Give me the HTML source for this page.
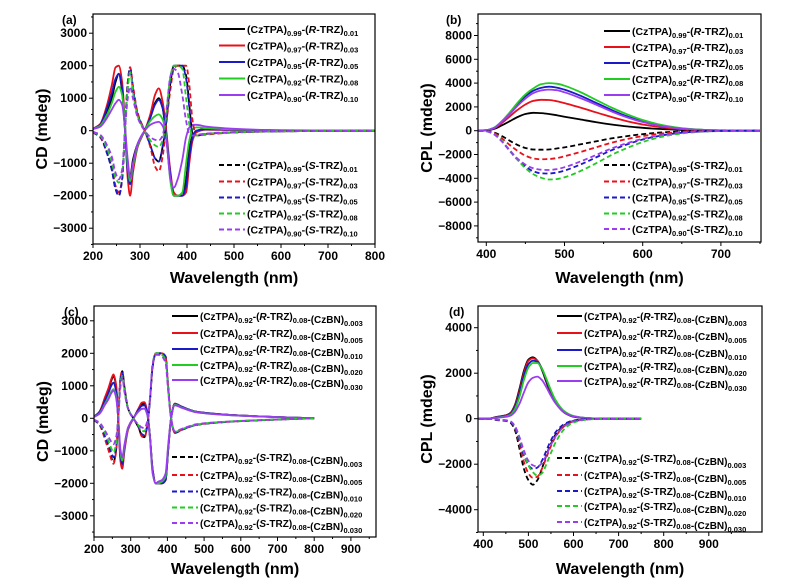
<!DOCTYPE html>
<html><head><meta charset="utf-8"><style>
html,body{margin:0;padding:0;background:#fff;}
svg{display:block;font-family:"Liberation Sans",Arial,sans-serif;font-weight:bold;}
</style></head><body>
<svg id="fig" width="800" height="586" viewBox="0 0 800 586"></svg>
<script>
// ---------- shared ----------
const colors = ["#000000","#e8101a","#1a1ac8","#22cc22","#9a3cf0"];

// ---------- panel (a) data ----------
const xsA = [200,215,230,240,248,255,262,268,274,279,285,295,310,322,332,340,348,356,365,372,380,390,398,405,412,420,440,500,600,800];
const aR0 = [50,150,600,1000,1500,1750,1200,0,-1100,-1400,-900,-400,0,400,850,1000,700,-200,-1500,-2000,-2000,-2000,-1500,-600,-150,0,50,30,10,0];
const aR1 = [60,200,800,1400,1950,2000,1500,200,-1500,-2000,-1300,-500,0,500,1100,1300,900,0,-1300,-1900,-2000,-2000,-1900,-1000,-300,-50,30,20,10,0];
const aR2 = [50,180,700,1150,1600,1750,1300,100,-1300,-1650,-1100,-450,0,400,800,950,700,-100,-1400,-2000,-2000,-2000,-1700,-800,-200,0,40,30,10,0];
const aR3 = [50,150,500,850,1200,1350,1100,200,-1100,-1550,-1100,-450,0,300,450,500,350,-200,-1600,-2000,-2000,-1900,-1000,-300,50,100,80,40,10,0];
const aR4 = [50,120,400,650,850,950,800,100,-900,-1450,-1000,-400,0,180,250,270,150,-300,-1500,-1750,-1500,-900,-200,100,180,180,130,60,15,0];
const aS0 = [-50,-150,-700,-1200,-1800,-2000,-1500,0,1500,1950,1300,500,0,-450,-850,-950,-500,300,1500,2000,2000,2000,1700,800,-100,-150,-100,-50,-20,0];
const aS1 = [-60,-200,-700,-1150,-1700,-1900,-1500,0,1500,1950,1400,550,0,-500,-1100,-1250,-800,200,1300,1900,2000,2000,2000,1400,300,-150,-120,-60,-20,0];
const aS2 = [-50,-180,-700,-1200,-1800,-2000,-1500,0,1400,1900,1300,500,0,-450,-850,-950,-500,300,1500,2000,2000,2000,1600,700,-100,-150,-100,-50,-20,0];
const aS3 = [-40,-150,-550,-950,-1450,-1600,-1300,0,1300,1800,1200,450,0,-300,-450,-500,-300,500,1700,2000,2000,1900,1000,200,-150,-150,-100,-50,-20,0];
const aS4 = [-30,-120,-450,-800,-1300,-1500,-1200,0,1000,1350,1000,400,0,-200,-280,-300,-150,600,1700,1900,1800,1100,300,-100,-150,-130,-90,-40,-15,0];
const aRsub1 = ["0.99","0.97","0.95","0.92","0.90"];
const aRsub2 = ["0.01","0.03","0.05","0.08","0.10"];

// ---------- panel (b) data ----------
const xsB = [390,400,410,420,430,440,450,460,470,480,490,500,520,540,560,580,600,620,640,660,680,700,750];
const bR0 = [0,20,150,450,800,1150,1400,1500,1480,1400,1300,1180,950,720,520,360,240,150,90,40,20,10,0];
const bR1 = [0,30,200,650,1200,1750,2200,2500,2600,2580,2480,2320,1950,1550,1150,800,520,320,180,90,40,20,0];
const bR2 = [0,40,250,800,1500,2250,2900,3350,3600,3700,3620,3450,2950,2350,1750,1200,780,470,260,130,60,25,0];
const bR3 = [0,40,250,800,1550,2350,3050,3550,3900,4000,3950,3780,3250,2600,1950,1380,900,550,300,150,70,30,0];
const bR4 = [0,40,230,750,1400,2100,2700,3150,3380,3450,3400,3230,2750,2200,1620,1120,730,440,240,120,55,25,0];
const bS0 = [0,-20,-150,-450,-850,-1200,-1450,-1580,-1600,-1580,-1500,-1400,-1150,-900,-650,-450,-290,-170,-90,-40,-20,-10,0];
const bS1 = [0,-30,-200,-650,-1200,-1700,-2100,-2330,-2400,-2380,-2300,-2150,-1800,-1400,-1020,-700,-450,-270,-150,-70,-30,-15,0];
const bS2 = [0,-40,-300,-900,-1700,-2450,-3000,-3400,-3580,-3600,-3520,-3350,-2850,-2250,-1650,-1150,-740,-450,-240,-120,-55,-25,0];
const bS3 = [0,-40,-280,-850,-1650,-2450,-3150,-3650,-3950,-4100,-4070,-3920,-3400,-2750,-2050,-1450,-950,-580,-320,-160,-70,-30,0];
const bS4 = [0,-40,-300,-900,-1650,-2350,-2850,-3150,-3280,-3300,-3230,-3070,-2600,-2050,-1500,-1050,-680,-410,-220,-110,-50,-20,0];

// ---------- panel (c) data ----------
const xsC = [200,215,230,240,247,253,260,266,272,277,283,293,310,322,330,337,345,352,360,368,375,385,395,402,410,420,440,480,550,650,800];
const cR0 = [50,200,600,900,1150,1300,1000,0,-1200,-1450,-900,-300,50,300,430,450,200,-500,-1600,-2000,-2000,-2000,-1900,-1000,0,450,350,200,120,60,0];
const cR1 = [50,200,650,950,1200,1350,1050,0,-1300,-1550,-1000,-350,50,320,480,500,220,-500,-1600,-2000,-2000,-2000,-1900,-1000,0,450,350,200,120,60,0];
const cR2 = [50,180,550,800,1000,1100,850,0,-1150,-1400,-900,-300,50,280,380,400,180,-500,-1600,-2000,-2000,-2000,-1900,-1000,0,440,350,200,120,60,0];
const cR3 = [40,150,450,650,820,900,700,0,-1050,-1300,-850,-300,50,220,290,300,120,-550,-1700,-2000,-2000,-1950,-1800,-900,0,420,330,190,110,55,0];
const cR4 = [40,140,420,600,770,850,650,0,-950,-1200,-800,-280,50,220,290,300,120,-550,-1700,-2000,-1950,-1900,-1700,-850,0,400,320,180,110,55,0];
const cS0 = [-50,-200,-600,-950,-1200,-1350,-1000,0,1200,1450,950,300,-50,-300,-530,-580,-250,500,1600,2000,2000,2000,1900,1000,0,-450,-350,-200,-120,-60,0];
const cS1 = [-50,-200,-650,-1000,-1250,-1400,-1050,0,1250,1450,950,300,-50,-300,-550,-600,-250,500,1600,2000,2000,2000,1900,1000,0,-450,-350,-200,-120,-60,0];
const cS2 = [-50,-180,-550,-850,-1050,-1200,-900,0,1150,1400,900,300,-50,-280,-480,-520,-220,500,1600,2000,2000,2000,1900,1000,0,-440,-350,-200,-120,-60,0];
const cS3 = [-40,-150,-450,-720,-920,-1050,-800,0,1100,1300,850,300,-50,-230,-370,-400,-150,550,1700,2000,2000,1950,1800,900,0,-420,-330,-190,-110,-55,0];
const cS4 = [-40,-130,-380,-580,-720,-800,-600,0,950,1250,800,280,-50,-200,-280,-300,-100,550,1700,1950,1950,1900,1700,850,0,-400,-320,-180,-110,-55,0];
const cSub = ["0.003","0.005","0.010","0.020","0.030"];

// ---------- panel (d) data ----------
const xsD = [390,410,430,450,460,470,480,490,500,510,520,530,540,550,560,580,600,630,660,700,750];
const dR0 = [0,0,80,150,250,600,1300,2100,2600,2700,2550,2150,1600,1100,700,260,90,20,5,0,0];
const dR1 = [0,0,70,140,230,550,1200,2000,2550,2650,2550,2200,1680,1150,740,280,100,25,5,0,0];
const dR2 = [0,0,60,120,200,500,1100,1900,2400,2550,2500,2200,1700,1200,780,300,110,25,5,0,0];
const dR3 = [0,0,50,100,170,420,950,1700,2250,2450,2450,2200,1750,1250,820,320,120,30,5,0,0];
const dR4 = [0,0,40,80,130,300,650,1150,1600,1800,1850,1700,1380,1000,680,270,100,25,5,0,0];
const dS0 = [0,0,-60,-100,-180,-500,-1300,-2200,-2700,-2900,-2700,-2200,-1600,-1100,-700,-280,-100,-25,-5,0,0];
const dS1 = [0,0,-50,-90,-150,-420,-1100,-1900,-2400,-2600,-2550,-2200,-1700,-1200,-800,-320,-120,-30,-5,0,0];
const dS2 = [0,0,-50,-80,-140,-380,-950,-1600,-2050,-2200,-2150,-1850,-1400,-950,-600,-230,-80,-20,-5,0,0];
const dS3 = [0,0,-40,-70,-120,-330,-850,-1500,-2050,-2350,-2500,-2400,-2000,-1500,-1050,-450,-170,-40,-8,0,0];
const dS4 = [0,0,-40,-70,-120,-320,-800,-1400,-1850,-2050,-2100,-1950,-1600,-1150,-780,-320,-120,-30,-5,0,0];

// ---------- drawing ----------
const NS = "http://www.w3.org/2000/svg";
const svg = document.getElementById("fig");
function el(tag, attrs, parent){
  const e = document.createElementNS(NS, tag);
  for (const k in attrs) e.setAttribute(k, attrs[k]);
  (parent||svg).appendChild(e);
  return e;
}
function monoPath(px, py){
  const n = px.length; if (n<2) return "";
  const d=[], m=[];
  for (let i=0;i<n-1;i++) d.push((py[i+1]-py[i])/(px[i+1]-px[i]));
  m[0]=d[0]; m[n-1]=d[n-2];
  for (let i=1;i<n-1;i++){
    if (d[i-1]*d[i]<=0) m[i]=0;
    else { const w1=2*(px[i+1]-px[i])+(px[i]-px[i-1]), w2=(px[i+1]-px[i])+2*(px[i]-px[i-1]);
      m[i]=(w1+w2)/(w1/d[i-1]+w2/d[i]); }
  }
  let s = "M"+px[0].toFixed(1)+","+py[0].toFixed(1);
  for (let i=0;i<n-1;i++){
    const h=(px[i+1]-px[i])/3;
    s += " C"+(px[i]+h).toFixed(1)+","+(py[i]+m[i]*h).toFixed(1)+" "+(px[i+1]-h).toFixed(1)+","+(py[i+1]-m[i+1]*h).toFixed(1)+" "+px[i+1].toFixed(1)+","+py[i+1].toFixed(1);
  }
  return s;
}

function panel(p){
  const g = el("g", {});
  
  
  const sx = v => p.x0px + (v - p.x0v) * p.xs;
  const sy = v => p.y0px - v * p.ys;
  const cp = el("clipPath", {id:"clip-"+p.id}, g);
  el("rect", {x:p.L, y:p.T, width:p.R-p.L, height:p.B-p.T}, cp);
  const tg = el("g", {stroke:"#000","stroke-width":1}, g);
  
  
  for (let v=p.xMinorStart; v<=p.xMax; v+=p.xMinor){
    const x=sx(v); if (x<p.L-0.5||x>p.R+0.5) continue;
    const major = ((v - p.xTicks[0]) % p.xMajor)===0;
    el("line",{x1:x,x2:x,y1:p.B,y2:p.B+(major?4:2)},tg);
  }
  for (let v=p.yMinorStart; v<=p.yMax; v+=p.yMinor){
    const y=sy(v); if (y<p.T-0.5||y>p.B+0.5) continue;
    const major = (Math.abs(v) % p.yMajor)===0;
    el("line",{x1:p.L,x2:p.L-(major?4:2),y1:y,y2:y},tg);
  }
  p.xTicks.forEach(v=>{
    const t = el("text",{x:sx(v),y:p.B+16,"text-anchor":"middle","font-size":12},g);
    t.textContent = v;
    
    
  });
  p.yTicks.forEach(v=>{
    const t = el("text",{x:p.L-6,y:sy(v)+4,"text-anchor":"end","font-size":12},g);
    t.textContent = v<0 ? "\u2212"+Math.abs(v) : v;
    
    
  });
  const sg = el("g",{"clip-path":"url(#clip-"+p.id+")",fill:"none","stroke-width":1.8,"stroke-linejoin":"round"},g);
  p.series.forEach((s,i)=>{
    const path = el("path",{d:monoPath(p.xsArr.map(sx), s.v.map(sy)), stroke:colors[s.c]},sg);
    if (s.dash) path.setAttribute("stroke-dasharray","5,3");
    
    
  });
  const fr = el("rect",{x:p.L,y:p.T,width:p.R-p.L,height:p.B-p.T,fill:"none",stroke:"#000","stroke-width":1.2},g);
  
  
  const xt = el("text",{x:(p.L+p.R)/2,y:p.xTitleY,"text-anchor":"middle","font-size":16},g);
  xt.textContent = "Wavelength (nm)";
  
  
  const yt = el("text",{x:0,y:0,"text-anchor":"middle","font-size":16,transform:"translate("+p.yTitleX+","+((p.T+p.B)/2)+") rotate(-90)"},g);
  yt.textContent = p.yTitle;
  
  
  const pl = el("text",{x:p.labX,y:p.labY,"font-size":12},g);
  pl.textContent = "("+p.id+")";
  
  
  p.legend.forEach((L,i)=>{
    const lg = el("g",{},g);
    
    
    const ln = el("line",{x1:p.legX1,x2:p.legX2,y1:L.y,y2:L.y,stroke:colors[L.c],"stroke-width":2},lg);
    if (L.dash) ln.setAttribute("stroke-dasharray","5,3");
    const t = el("text",{x:p.legX2+2,y:L.y+4,"font-size":p.legFs},lg);
    t.innerHTML = L.html;
  });
}
function sub(s){ return '<tspan dy="3" font-size="7.5">'+s+'</tspan><tspan dy="-3">'; }
function lab(a, ch, b, c){
  let h = '(CzTPA)'+sub(a)+'-(</tspan><tspan font-style="italic">'+ch+'</tspan><tspan>-TRZ)'+sub(b)+'</tspan>';
  if (c) h += '<tspan>-(CzBN)'+sub(c)+'</tspan></tspan>';
  return h;
}

panel({id:"a",L:93,R:375,T:14,B:244,x0v:200,x0px:93,xs:282/600,y0px:130.7,ys:0.0325,
  xTicks:[200,300,400,500,600,700,800],xMajor:100,xMinor:50,xMinorStart:200,xMax:800,
  yTicks:[-3000,-2000,-1000,0,1000,2000,3000],yMajor:1000,yMinor:500,yMinorStart:-3500,yMax:3500,
  xsArr:xsA,yTitle:"CD (mdeg)",yTitleX:47,xTitleY:283,labX:62,labY:24,legFs:10.5,
  series:[aR0,aR1,aR2,aR3,aR4].map((v,i)=>({v,c:i,name:"R"+i})).concat([aS0,aS1,aS2,aS3,aS4].map((v,i)=>({v,c:i,dash:1,name:"S"+i}))),
  legX1:219,legX2:245,
  legend:[29,45.5,62,78.5,95].map((y,i)=>({y,c:i,html:lab(aRsub1[i],"R",aRsub2[i])})).concat([165,181.5,197.5,213.5,229.5].map((y,i)=>({y,c:i,dash:1,html:lab(aRsub1[i],"S",aRsub2[i])})))
});
panel({id:"b",L:478,R:761,T:14,B:242,x0v:400,x0px:486.3,xs:0.782,y0px:130.7,ys:0.0119,
  xTicks:[400,500,600,700],xMajor:100,xMinor:50,xMinorStart:400,xMax:750,
  yTicks:[-8000,-6000,-4000,-2000,0,2000,4000,6000,8000],yMajor:2000,yMinor:1000,yMinorStart:-9000,yMax:9000,
  xsArr:xsB,yTitle:"CPL (mdeg)",yTitleX:432,xTitleY:283,labX:446,labY:24,legFs:10.5,
  series:[bR0,bR1,bR2,bR3,bR4].map((v,i)=>({v,c:i,name:"R"+i})).concat([bS0,bS1,bS2,bS3,bS4].map((v,i)=>({v,c:i,dash:1,name:"S"+i}))),
  legX1:604,legX2:630,
  legend:[31,47,63,79,95].map((y,i)=>({y,c:i,html:lab(aRsub1[i],"R",aRsub2[i])})).concat([165,181.5,197.5,213.5,229].map((y,i)=>({y,c:i,dash:1,html:lab(aRsub1[i],"S",aRsub2[i])})))
});
panel({id:"c",L:94,R:376,T:306,B:537,x0v:200,x0px:94,xs:0.367,y0px:418.3,ys:0.0325,
  xTicks:[200,300,400,500,600,700,800,900],xMajor:100,xMinor:50,xMinorStart:200,xMax:950,
  yTicks:[-3000,-2000,-1000,0,1000,2000,3000],yMajor:1000,yMinor:500,yMinorStart:-3500,yMax:3500,
  xsArr:xsC,yTitle:"CD (mdeg)",yTitleX:48,xTitleY:574,labX:64,labY:316,legFs:10,
  series:[cR0,cR1,cR2,cR3,cR4].map((v,i)=>({v,c:i,name:"R"+i})).concat([cS0,cS1,cS2,cS3,cS4].map((v,i)=>({v,c:i,dash:1,name:"S"+i}))),
  legX1:172,legX2:198,
  legend:[316,333,349,365,380].map((y,i)=>({y,c:i,html:lab("0.92","R","0.08",cSub[i])})).concat([457,475,491.5,507.5,523].map((y,i)=>({y,c:i,dash:1,html:lab("0.92","S","0.08",cSub[i])})))
});
panel({id:"d",L:478,R:762,T:306,B:532,x0v:400,x0px:483.3,xs:0.451,y0px:418.7,ys:0.02275,
  xTicks:[400,500,600,700,800,900],xMajor:100,xMinor:50,xMinorStart:400,xMax:950,
  yTicks:[-4000,-2000,0,2000,4000],yMajor:2000,yMinor:1000,yMinorStart:-5000,yMax:5000,
  xsArr:xsD,yTitle:"CPL (mdeg)",yTitleX:432,xTitleY:574,labX:449,labY:316,legFs:10,
  series:[dR0,dR1,dR2,dR3,dR4].map((v,i)=>({v,c:i,name:"R"+i})).concat([dS0,dS1,dS2,dS3,dS4].map((v,i)=>({v,c:i,dash:1,name:"S"+i}))),
  legX1:557,legX2:582,
  legend:[316,333,350,366,381].map((y,i)=>({y,c:i,html:lab("0.92","R","0.08",cSub[i])})).concat([458,475,491,506,522].map((y,i)=>({y,c:i,dash:1,html:lab("0.92","S","0.08",cSub[i])})))
});
</script>
</body></html>
